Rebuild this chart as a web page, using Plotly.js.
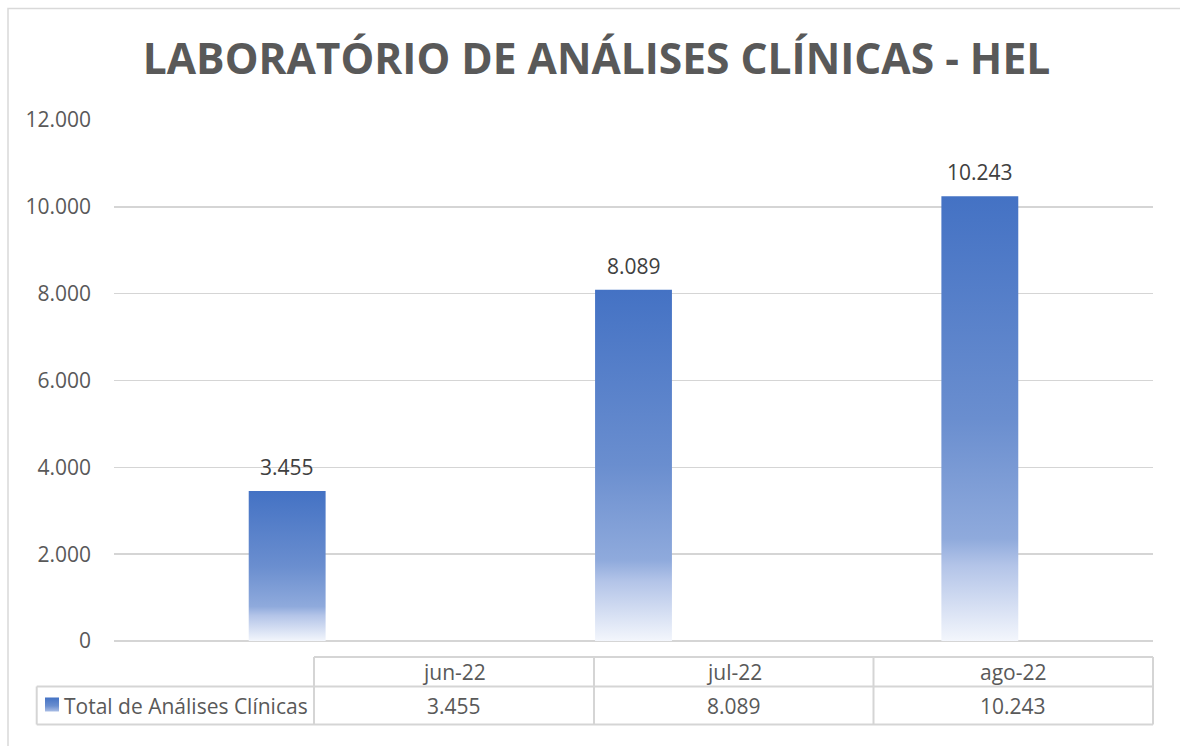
<!DOCTYPE html>
<html>
<head>
<meta charset="utf-8">
<script src="https://cdn.plot.ly/plotly-3.0.1.min.js"></script>
<style>
  html, body { margin: 0; padding: 0; background: #ffffff; }
  #chart { width: 1180px; height: 746px; }
</style>
</head>
<body>
<div id="chart"></div>
<script>
// ---- data ----
const months = ['jun-22', 'jul-22', 'ago-22'];
const totals = [3455, 8089, 10243];
const seriesName = 'Total de Análises Clínicas';
const chartTitle = 'LABORATÓRIO DE ANÁLISES CLÍNICAS - HEL';
const yTickVals = [0, 2000, 4000, 6000, 8000, 10000, 12000];

// ---- layout helpers (pixel geometry -> paper coords) ----
const W = 1180, H = 746;
const M = { l: 114, r: 27, t: 120, b: 105 };
const PW = W - M.l - M.r, PH = H - M.t - M.b;
const px = v => (v - M.l) / PW;
const py = v => (H - M.b - v) / PH;
const fmt = v => String(v).replace(/\B(?=(\d{3})+(?!\d))/g, '.');

const gridColor = '#D5D5D5';
const textColor = '#595959';
const FONT = '"Open Sans", "Noto Sans", sans-serif';

// table geometry (pixels)
const colEdges = [36.7, 314, 594, 873.5, 1153];
const rowEdges = [657, 686.5, 724.5];

const shapes = [];
const annotations = [];

// outer chart border
shapes.push({ type: 'rect', xref: 'paper', yref: 'paper',
  x0: px(8), x1: px(1190), y0: py(756), y1: py(8.5),
  line: { color: '#D9D9D9', width: 1.5 }, fillcolor: 'rgba(0,0,0,0)', layer: 'below' });

// table borders
function hline(x0, x1, y) {
  shapes.push({ type: 'line', xref: 'paper', yref: 'paper', x0: px(x0), x1: px(x1), y0: py(y), y1: py(y),
    line: { color: gridColor, width: 2 } });
}
function vline(x, y0, y1) {
  shapes.push({ type: 'line', xref: 'paper', yref: 'paper', x0: px(x), x1: px(x), y0: py(y0), y1: py(y1),
    line: { color: gridColor, width: 2 } });
}
hline(colEdges[1], colEdges[4], rowEdges[0]);
hline(colEdges[0], colEdges[4], rowEdges[1]);
hline(colEdges[0], colEdges[4], rowEdges[2]);
vline(colEdges[0], rowEdges[1], rowEdges[2]);
for (let i = 1; i < colEdges.length; i++) vline(colEdges[i], rowEdges[0], rowEdges[2]);

// legend key square
const keyShapeIndex = shapes.length;
shapes.push({ type: 'rect', xref: 'paper', yref: 'paper',
  x0: px(45), x1: px(59), y0: py(711.5), y1: py(697.5),
  line: { width: 0 }, fillcolor: '#4472C4' });

// table texts
const hdrY = (rowEdges[0] + rowEdges[1]) / 2;
const datY = (rowEdges[1] + rowEdges[2]) / 2;
months.forEach((m, i) => {
  const cx = (colEdges[i + 1] + colEdges[i + 2]) / 2;
  annotations.push({ xref: 'paper', yref: 'paper', x: px(cx), y: py(hdrY), text: m,
    showarrow: false, xanchor: 'center', yanchor: 'middle',
    font: { family: FONT, size: 21, color: textColor } });
  annotations.push({ xref: 'paper', yref: 'paper', x: px(cx), y: py(datY), text: fmt(totals[i]),
    showarrow: false, xanchor: 'center', yanchor: 'middle',
    font: { family: FONT, size: 21, color: textColor } });
});
annotations.push({ xref: 'paper', yref: 'paper', x: px(62), y: py(datY), text: seriesName,
  showarrow: false, xanchor: 'left', yanchor: 'middle',
  font: { family: FONT, size: 21, color: textColor } });

// data labels above bars
months.forEach((m, i) => {
  annotations.push({ xref: 'x', yref: 'y', x: m, y: totals[i], text: fmt(totals[i]),
    showarrow: false, xanchor: 'center', yanchor: 'bottom', yshift: 8,
    font: { family: FONT, size: 21, color: '#404040' } });
});

const trace = {
  type: 'bar', x: months, y: totals, name: seriesName,
  marker: { color: '#4472C4', line: { width: 0 } },
  hoverinfo: 'x+y', showlegend: false
};

const layout = {
  width: W, height: H,
  margin: M,
  paper_bgcolor: '#ffffff', plot_bgcolor: '#ffffff',
  separators: ',.',
  bargap: 0.778,
  title: { text: '<b>' + chartTitle + '</b>', x: 0.5055, xanchor: 'center', y: 1 - 59 / H, yanchor: 'middle',
    yref: 'container', font: { family: FONT, size: 42.5, color: textColor } },
  xaxis: { type: 'category', range: [-0.5, 2.5], showticklabels: false, showgrid: false,
    zeroline: false, showline: false, ticks: '', fixedrange: true },
  yaxis: { range: [0, 12000], tickvals: yTickVals, ticktext: yTickVals.map(fmt),
    showgrid: true, gridcolor: gridColor, gridwidth: 1.5,
    zeroline: true, zerolinecolor: gridColor, zerolinewidth: 1.5,
    showline: false, ticks: '', ticklabelstandoff: 22,
    tickfont: { family: FONT, size: 21, color: textColor }, fixedrange: true },
  shapes: shapes,
  annotations: annotations,
  showlegend: false
};

const gd = document.getElementById('chart');
Plotly.newPlot(gd, [trace], layout, { displayModeBar: false, staticPlot: true }).then(() => {
  const NS = 'http://www.w3.org/2000/svg';
  const svg = gd.querySelector('svg.main-svg');
  let defs = svg.querySelector('defs');
  if (!defs) { defs = document.createElementNS(NS, 'defs'); svg.insertBefore(defs, svg.firstChild); }
  function addGrad(id, stops) {
    const g = document.createElementNS(NS, 'linearGradient');
    g.setAttribute('id', id);
    g.setAttribute('x1', '0'); g.setAttribute('y1', '0');
    g.setAttribute('x2', '0'); g.setAttribute('y2', '1');
    stops.forEach(([o, c]) => {
      const s = document.createElementNS(NS, 'stop');
      s.setAttribute('offset', o); s.setAttribute('stop-color', c);
      g.appendChild(s);
    });
    defs.appendChild(g);
  }
  addGrad('barGrad', [[0, '#4472C4'], [0.5, '#6A8ECF'], [0.77, '#8FAADC'], [0.83, '#B3C4E8'], [1, '#F3F6FC']]);
  addGrad('keyGrad', [[0, '#4472C4'], [0.6, '#6A8ECF'], [1, '#A9BDE5']]);
  gd.querySelectorAll('.barlayer .point path').forEach(p => { p.style.fill = 'url(#barGrad)'; });
  gd.querySelectorAll('.shapelayer path[data-index="' + keyShapeIndex + '"]').forEach(p => { p.style.fill = 'url(#keyGrad)'; p.style.fillOpacity = 1; });
});
</script>
</body>
</html>
